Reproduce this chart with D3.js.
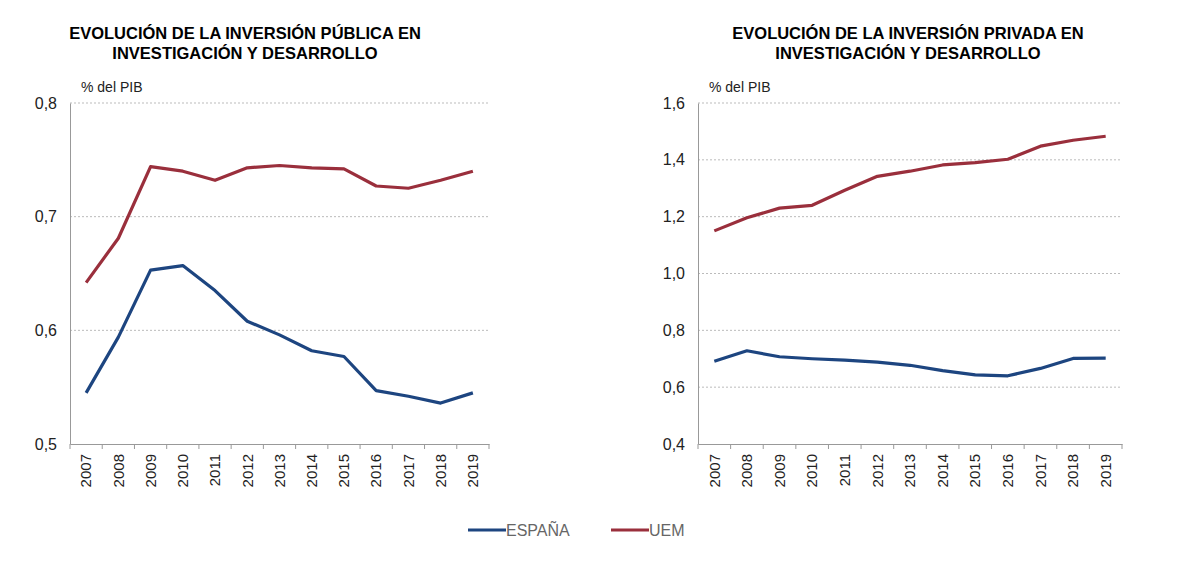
<!DOCTYPE html>
<html>
<head>
<meta charset="utf-8">
<script src="https://cdn.jsdelivr.net/npm/d3@7"></script>
<style>
  body { margin: 0; background: #fff; }
  text { font-family: "Liberation Sans", Arial, sans-serif; }
</style>
</head>
<body>
<script>
const years = ["2007", "2008", "2009", "2010", "2011", "2012", "2013", "2014", "2015", "2016", "2017", "2018", "2019"];

// inversión pública (% del PIB)
const publicaEspana = [0.545, 0.594, 0.653, 0.657, 0.635, 0.608, 0.596, 0.582, 0.577, 0.547, 0.542, 0.536, 0.545];
const publicaUem = [0.642, 0.681, 0.744, 0.740, 0.732, 0.743, 0.745, 0.743, 0.742, 0.727, 0.725, 0.732, 0.740];

// inversión privada (% del PIB)
const privadaEspana = [0.691, 0.728, 0.707, 0.700, 0.695, 0.688, 0.677, 0.658, 0.643, 0.640, 0.666, 0.701, 0.702];
const privadaUem = [1.150, 1.196, 1.230, 1.240, 1.293, 1.342, 1.360, 1.382, 1.390, 1.402, 1.448, 1.469, 1.483];

const publicaTicks = [0.5, 0.6, 0.7, 0.8];
const privadaTicks = [0.4, 0.6, 0.8, 1.0, 1.2, 1.4, 1.6];

const seriesNames = ["ESPAÑA", "UEM"];
const colors = { "ESPAÑA": "#1d4580", "UEM": "#9a2f3c" };

const w = 1200;
const h = 564;

const svg = d3.select("body").append("svg").attr("width", w).attr("height", h);

const fmt = (d) => d.toFixed(1).replace(".", ",");

function drawChart(cfg) {
  const x = d3.scaleBand().domain(years).range([cfg.x0, cfg.x1]);
  const y = d3.scaleLinear().domain(cfg.domain).range([444, 103]);

  const g = svg.append("g");

  // title
  g.append("text")
    .attr("x", cfg.titleX)
    .attr("y", 39)
    .attr("text-anchor", "middle")
    .style("font-size", "16.5px")
    .style("font-weight", "bold")
    .selectAll("tspan")
    .data(cfg.title)
    .enter()
    .append("tspan")
    .attr("x", cfg.titleX)
    .attr("dy", (d, i) => (i === 0 ? 0 : 20))
    .text((d) => d);

  g.append("text")
    .attr("x", cfg.x0 + 11)
    .attr("y", 92)
    .style("font-size", "14px")
    .attr("fill", "#222")
    .text("% del PIB");

  // grid
  g.selectAll(".grid")
    .data(cfg.ticks.slice(1))
    .enter()
    .append("line")
    .attr("x1", cfg.x0)
    .attr("x2", cfg.x1)
    .attr("y1", (d) => y(d))
    .attr("y2", (d) => y(d))
    .attr("stroke", "#bbb")
    .attr("stroke-width", 1)
    .attr("stroke-dasharray", "2,2");

  // y axis
  const yAxis = g.append("g")
    .attr("transform", `translate(${cfg.x0},0)`)
    .call(d3.axisLeft(y).tickValues(cfg.ticks).tickFormat(fmt).tickSize(0).tickPadding(13));
  yAxis.select(".domain").attr("stroke", "#999");
  yAxis.selectAll("text").style("font-size", "16px").attr("fill", "#222");

  // x axis
  const xAxis = g.append("g")
    .attr("transform", "translate(0,444)")
    .call(d3.axisBottom(x).tickSize(0));
  xAxis.select(".domain").attr("stroke", "#999");
  xAxis.selectAll("text")
    .style("font-size", "15px")
    .attr("fill", "#222")
    .attr("transform", "rotate(-90)")
    .attr("text-anchor", "end")
    .attr("x", -10)
    .attr("y", 0)
    .attr("dy", "0.35em");

  g.selectAll(".xtick")
    .data(years.concat(["end"]))
    .enter()
    .append("line")
    .attr("x1", (d, i) => cfg.x0 + i * x.bandwidth())
    .attr("x2", (d, i) => cfg.x0 + i * x.bandwidth())
    .attr("y1", 444)
    .attr("y2", 449)
    .attr("stroke", "#999");

  const line = d3.line()
    .x((d, i) => x(years[i]) + x.bandwidth() / 2)
    .y((d) => y(d));

  cfg.series.forEach((s, k) => {
    g.append("path")
      .datum(s)
      .attr("d", line)
      .attr("fill", "none")
      .attr("stroke", colors[seriesNames[k]])
      .attr("stroke-width", 3.2)
      .attr("stroke-linejoin", "round");
  });
}

drawChart({
  x0: 70,
  x1: 489,
  domain: [0.5, 0.8],
  ticks: publicaTicks,
  titleX: 245,
  title: ["EVOLUCIÓN DE LA INVERSIÓN PÚBLICA EN", "INVESTIGACIÓN Y DESARROLLO"],
  series: [publicaEspana, publicaUem]
});

drawChart({
  x0: 698,
  x1: 1122,
  domain: [0.4, 1.6],
  ticks: privadaTicks,
  titleX: 908,
  title: ["EVOLUCIÓN DE LA INVERSIÓN PRIVADA EN", "INVESTIGACIÓN Y DESARROLLO"],
  series: [privadaEspana, privadaUem]
});

// legend
const legendX = [468, 611];
const legend = svg.selectAll(".legend")
  .data(seriesNames)
  .enter()
  .append("g")
  .attr("transform", (d, i) => `translate(${legendX[i]},530)`);

legend.append("line")
  .attr("x1", 0)
  .attr("x2", 38)
  .attr("stroke", (d) => colors[d])
  .attr("stroke-width", 3.2);

legend.append("text")
  .attr("x", 38)
  .attr("dy", "0.35em")
  .style("font-size", "16px")
  .attr("fill", "#666")
  .text((d) => d);
</script>
</body>
</html>
